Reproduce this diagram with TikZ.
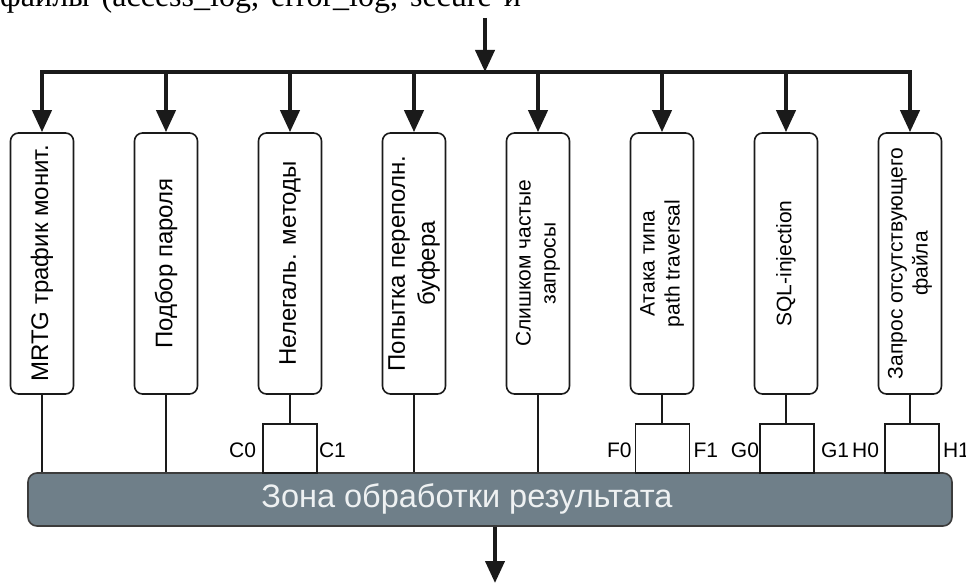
\documentclass[tikz,border=0pt]{standalone}
\usepackage{fontspec}
\setmainfont{Liberation Sans}
\newfontfamily\serifcyr{Liberation Serif}
\usetikzlibrary{arrows.meta}
\definecolor{zonefill}{HTML}{6F7F89}
\definecolor{zonetext}{HTML}{EEF1F2}
\definecolor{ink}{HTML}{1A1A1A}
\begin{document}
\begin{tikzpicture}[x=1pt,y=-1pt,
  box/.style={draw=ink, line width=1.6pt, rounded corners=8pt, fill=white, rotate=90,
    minimum width=261pt, minimum height=63pt, inner sep=0pt, align=center},
  bigtxt/.style={font=\fontsize{24}{30}\selectfont},
  smalltxt/.style={font=\fontsize{21}{25}\selectfont},
  feed/.style={line width=4pt, draw=ink, -{Triangle[width=19pt,length=22pt]}},
  busline/.style={line width=4pt, draw=ink, line cap=rect},
  wire/.style={line width=1.6pt, draw=ink},
  gate/.style={draw=ink, line width=1.6pt, minimum width=54pt, minimum height=49pt, inner sep=0pt},
  gatelbl/.style={font=\fontsize{21}{24}\selectfont, inner sep=0pt},
  zone/.style={draw=ink!85, line width=1.6pt, fill=zonefill, rounded corners=9pt,
    minimum width=924pt, minimum height=53pt, inner sep=0pt}
]
\useasboundingbox (0,0) rectangle (966,583);

% source text (cut at top)
\node[font=\serifcyr\fontsize{32}{32}\selectfont, anchor=base west, inner sep=0pt] (src) at (0,7)
  {\spaceskip=12pt файлы (access\_log, error\_log, secure и};

% boxes
\node[box,bigtxt] (b1) at (42,263.5) {MRTG трафик монит.};
\node[box,bigtxt] (b2) at (166,263.5) {Подбор пароля};
\node[box,bigtxt] (b3) at (290,263.5) {Нелегаль. методы};
\node[box,bigtxt] (b4) at (414,263.5) {Попытка переполн.\\буфера};
\node[box,smalltxt] (b5) at (538,263.5) {Слишком частые\\запросы};
\node[box,smalltxt] (b6) at (662,263.5) {Атака типа\\path traversal};
\node[box,smalltxt] (b7) at (786,263.5) {SQL-injection};
\node[box,smalltxt] (b8) at (910,263.5) {Запрос отсутствующего\\файла};

% input and bus
\coordinate (in) at (485,18);
\coordinate (busmid) at (485,72);
\draw[feed] (in) -- (busmid);
\draw[busline] (b1.east |- busmid) -- (b8.east |- busmid);
\foreach \i in {1,...,8} {
  \draw[feed] (b\i.east |- busmid) -- (b\i.east);
}

% result zone
\node[zone] (zone) at (490,499.5) {};
\node[font=\fontsize{32.5}{32.5}\selectfont, text=zonetext, inner sep=0pt] (zt) at (467,499) {Зона обработки результата};

% direct wires
\foreach \i in {1,2,4,5} {
  \draw[wire] (b\i.west) -- (b\i.west |- zone.north);
}

% gates
\node[gate] (gC) at (290,448.5) {};
\node[gate] (gF) at (662.5,448.5) {};
\node[gate] (gG) at (787,448.5) {};
\node[gate] (gH) at (912,448.5) {};
\draw[wire] (b3.west) -- (b3.west |- gC.north);
\draw[wire] (b6.west) -- (b6.west |- gF.north);
\draw[wire] (b7.west) -- (b7.west |- gG.north);
\draw[wire] (b8.west) -- (b8.west |- gH.north);

\node[gatelbl, anchor=east] (c0) at ([xshift=-6pt,yshift=-2pt]gC.west) {C0};
\node[gatelbl, anchor=west] (c1) at ([xshift=1pt,yshift=-2pt]gC.east) {C1};
\node[gatelbl, anchor=east] (f0) at ([xshift=-3pt,yshift=-2pt]gF.west) {F0};
\node[gatelbl, anchor=west] (f1) at ([xshift=3pt,yshift=-2pt]gF.east) {F1};
\node[gatelbl, anchor=east] (g0) at ([xshift=0pt,yshift=-2pt]gG.west) {G0};
\node[gatelbl, anchor=west] (g1) at ([xshift=6pt,yshift=-2pt]gG.east) {G1};
\node[gatelbl, anchor=east] (h0) at ([xshift=-5pt,yshift=-2pt]gH.west) {H0};
\node[gatelbl, anchor=west] (h1) at ([xshift=3pt,yshift=-2pt]gH.east) {H1};

% output
\coordinate (out) at (495,583);
\draw[feed] (zone.south -| out) -- (out);
\end{tikzpicture}
\end{document}
